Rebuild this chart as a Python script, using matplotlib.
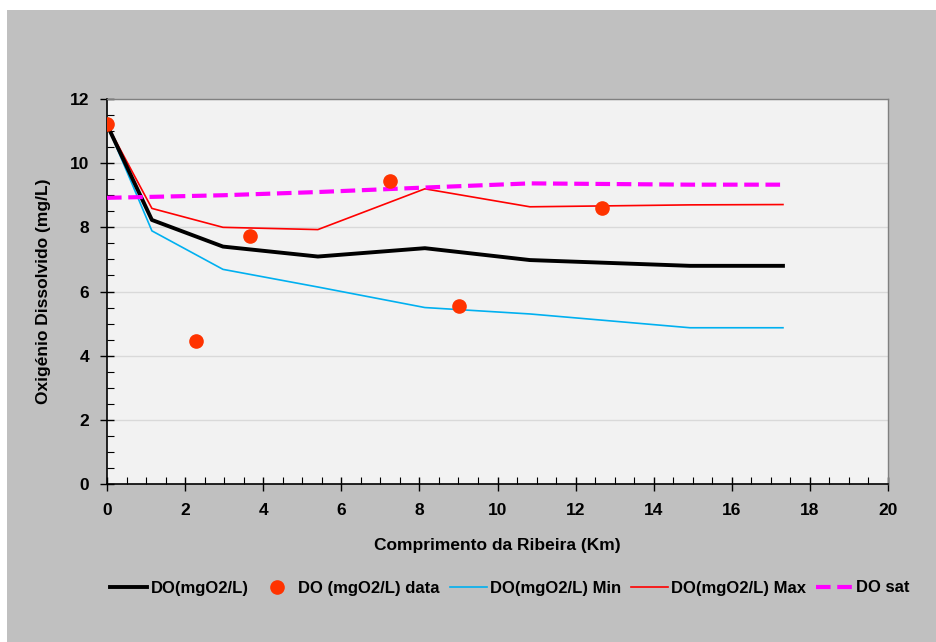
import matplotlib
matplotlib.use("Agg")
import matplotlib.pyplot as plt
from matplotlib.patches import Rectangle
from matplotlib.ticker import MultipleLocator

plt.rcParams['font.family'] = ['Liberation Sans', 'DejaVu Sans']
plt.rcParams['font.weight'] = 'bold'

# distance along the stream (km) and modelled oxygen
dist_km = [0, 1.15, 2.97, 5.40, 8.14, 10.83, 14.93, 17.31]
do_mean = [11.2, 8.23, 7.40, 7.09, 7.35, 6.98, 6.80, 6.80]
do_min = [11.2, 7.89, 6.69, 6.14, 5.50, 5.30, 4.87, 4.87]
do_max = [11.2, 8.59, 8.00, 7.93, 9.20, 8.64, 8.70, 8.71]
do_sat = [8.92, 8.95, 9.00, 9.10, 9.24, 9.37, 9.33, 9.33]

# field measurements
obs_km = [0, 2.28, 3.66, 7.25, 9.01, 12.68]
obs_do = [11.22, 4.46, 7.73, 9.43, 5.55, 8.60]

fig = plt.figure(figsize=(9.36, 6.42), dpi=100, facecolor='white')
fig.patches.append(Rectangle((7 / 936, 0), 1, 1 - 10 / 642, transform=fig.transFigure,
                             facecolor='#c0c0c0', edgecolor='none', zorder=-10))

ax = fig.add_axes([107 / 936, 1 - 484 / 642, 781 / 936, 385 / 642])
ax.set_facecolor('#f2f2f2')

ax.plot(dist_km, do_mean, color='black', lw=2.8, label='DO(mgO2/L)', zorder=4)
ax.plot(obs_km, obs_do, 'o', color='#ff3300', ms=9.5, label='DO (mgO2/L) data', zorder=6)
ax.plot(dist_km, do_min, color='#00b0f0', lw=1.2, label='DO(mgO2/L) Min', zorder=3)
ax.plot(dist_km, do_max, color='#ff0000', lw=1.2, label='DO(mgO2/L) Max', zorder=3)
ax.plot(dist_km, do_sat, color='#ff00ff', lw=3, dashes=(3.5, 1.6), label='DO sat', zorder=5)

ax.set_xlim(0, 20)
ax.set_ylim(0, 12)
ax.xaxis.set_major_locator(MultipleLocator(2))
ax.xaxis.set_minor_locator(MultipleLocator(0.5))
ax.yaxis.set_major_locator(MultipleLocator(2))
ax.yaxis.set_minor_locator(MultipleLocator(0.5))
ax.tick_params(which='major', direction='inout', length=10, width=1, labelsize=12.5)
ax.tick_params(axis='x', which='major', pad=9)
ax.tick_params(axis='y', which='major', pad=8)
ax.tick_params(which='minor', direction='in', length=5, width=0.8)
ax.grid(axis='y', which='major', color='#d9d9d9', lw=1)
ax.set_axisbelow(True)

for side in ('left', 'bottom'):
    ax.spines[side].set_color('black')
    ax.spines[side].set_linewidth(1.2)
for side in ('top', 'right'):
    ax.spines[side].set_color('#808080')
    ax.spines[side].set_linewidth(1)

ax.set_xlabel('Comprimento da Ribeira (Km)', fontsize=12.5, fontweight='bold', labelpad=14)
ax.set_ylabel('Oxigénio Dissolvido (mg/L)', fontsize=12.5, fontweight='bold', labelpad=13)

leg = fig.legend(loc='center', bbox_to_anchor=(510 / 936, 1 - 588 / 642), ncol=5, frameon=False,
                 fontsize=12, handlelength=2.2, handletextpad=0.2, columnspacing=0.6)

fig.savefig('out.png', dpi=100, facecolor=fig.get_facecolor())
